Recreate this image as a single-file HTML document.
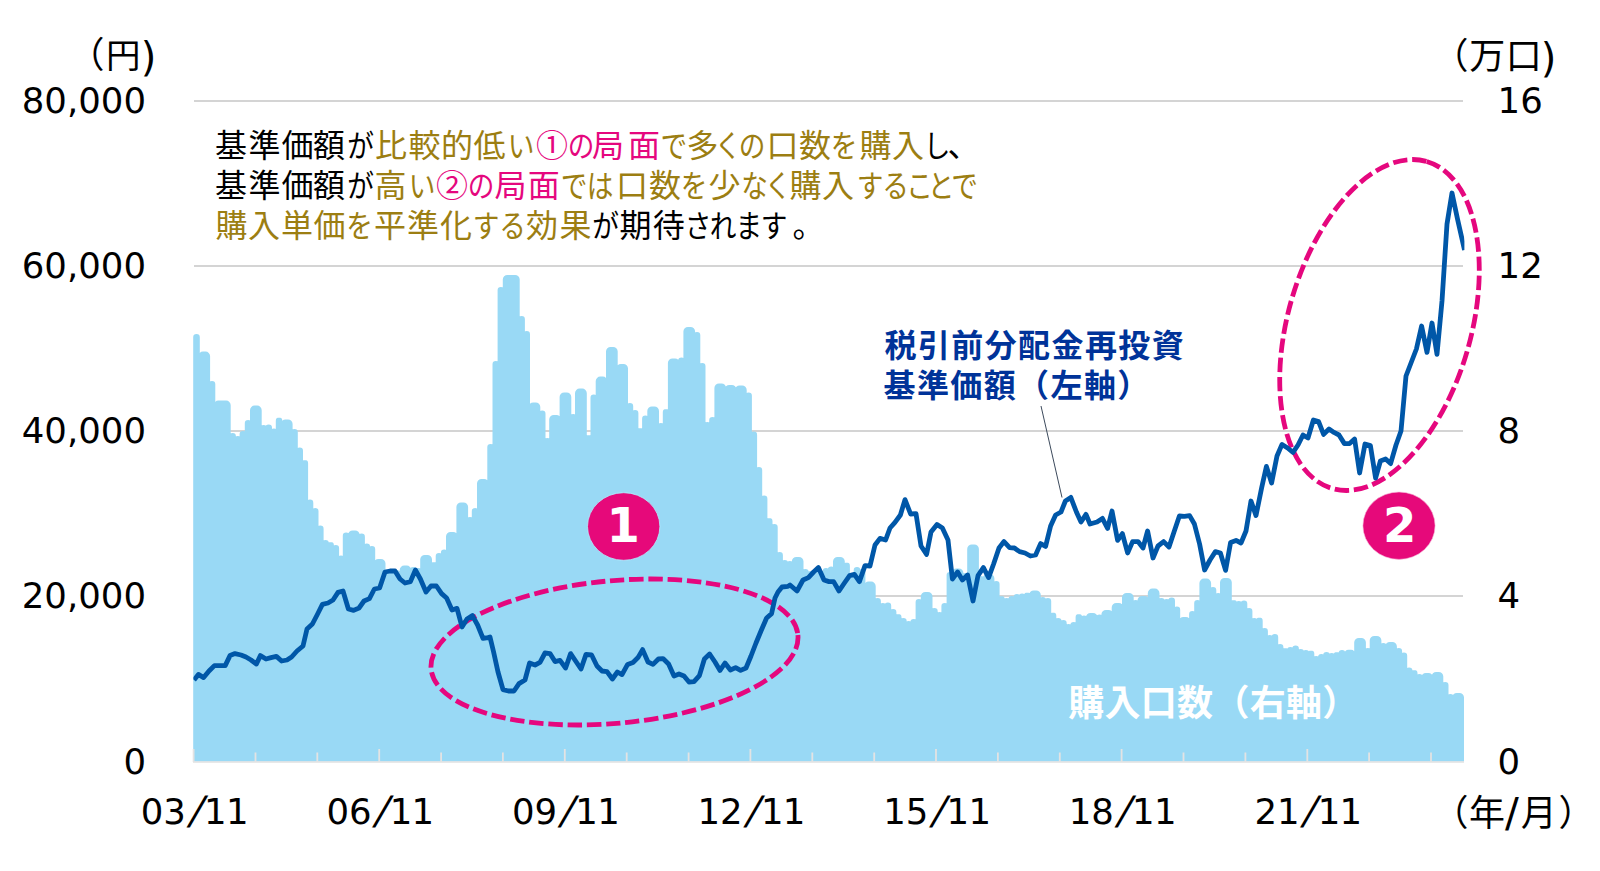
<!DOCTYPE html>
<html lang="ja"><head><meta charset="utf-8"><title>chart</title>
<style>
html,body{margin:0;padding:0;background:#fff;}
body{width:1600px;height:871px;overflow:hidden;position:relative;}
svg{position:absolute;left:0;top:0;}
.num{font-family:"DejaVu Sans","Liberation Sans",sans-serif;font-size:35.5px;fill:#000;}
.jp{font-family:"Liberation Sans","Noto Sans CJK JP",sans-serif;}
.dj{font-family:"DejaVu Sans","Liberation Sans",sans-serif;}
</style></head><body>
<svg width="1600" height="871" viewBox="0 0 1600 871">
<g stroke="#d4d4d4" stroke-width="2">
<line x1="194" x2="1463" y1="101" y2="101"/>
<line x1="194" x2="1463" y1="266" y2="266"/>
<line x1="194" x2="1463" y1="431" y2="431"/>
<line x1="194" x2="1463" y1="596" y2="596"/>
</g>
<path fill="#99d9f5" d="M193.2,761.5V337.3a3.3,3.3 0 0 1 3.3,-3.3H196.5a3.3,3.3 0 0 1 3.3,3.3V761.5ZM198.4,761.5V356.2a4.6,4.6 0 0 1 4.6,-4.6H205.5a4.6,4.6 0 0 1 4.6,4.6V761.5ZM208.7,761.5V384.3a3.3,3.3 0 0 1 3.3,-3.3H212.0a3.3,3.3 0 0 1 3.3,3.3V761.5ZM213.8,761.5V405.2a4.6,4.6 0 0 1 4.6,-4.6H226.1a4.6,4.6 0 0 1 4.6,4.6V761.5ZM229.3,761.5V436.3a3.3,3.3 0 0 1 3.3,-3.3H232.6a3.3,3.3 0 0 1 3.3,3.3V761.5ZM234.5,761.5V439.3a3.3,3.3 0 0 1 3.3,-3.3H237.8a3.3,3.3 0 0 1 3.3,3.3V761.5ZM239.6,761.5V434.3a3.3,3.3 0 0 1 3.3,-3.3H242.9a3.3,3.3 0 0 1 3.3,3.3V761.5ZM244.8,761.5V423.3a3.3,3.3 0 0 1 3.3,-3.3H248.1a3.3,3.3 0 0 1 3.3,3.3V761.5ZM250.0,761.5V410.2a4.6,4.6 0 0 1 4.6,-4.6H257.1a4.6,4.6 0 0 1 4.6,4.6V761.5ZM260.3,761.5V428.3a3.3,3.3 0 0 1 3.3,-3.3H263.6a3.3,3.3 0 0 1 3.3,3.3V761.5ZM265.4,761.5V427.7a3.3,3.3 0 0 1 3.3,-3.3H268.7a3.3,3.3 0 0 1 3.3,3.3V761.5ZM270.6,761.5V431.9a3.3,3.3 0 0 1 3.3,-3.3H273.9a3.3,3.3 0 0 1 3.3,3.3V761.5ZM275.8,761.5V420.9a3.3,3.3 0 0 1 3.3,-3.3H279.0a3.3,3.3 0 0 1 3.3,3.3V761.5ZM280.9,761.5V424.0a4.6,4.6 0 0 1 4.6,-4.6H288.0a4.6,4.6 0 0 1 4.6,4.6V761.5ZM291.2,761.5V432.3a3.3,3.3 0 0 1 3.3,-3.3H294.5a3.3,3.3 0 0 1 3.3,3.3V761.5ZM296.4,761.5V450.7a3.3,3.3 0 0 1 3.3,-3.3H299.7a3.3,3.3 0 0 1 3.3,3.3V761.5ZM301.6,761.5V463.3a3.3,3.3 0 0 1 3.3,-3.3H304.8a3.3,3.3 0 0 1 3.3,3.3V761.5ZM306.7,761.5V502.9a3.3,3.3 0 0 1 3.3,-3.3H310.0a3.3,3.3 0 0 1 3.3,3.3V761.5ZM311.9,761.5V511.3a3.3,3.3 0 0 1 3.3,-3.3H315.2a3.3,3.3 0 0 1 3.3,3.3V761.5ZM317.0,761.5V528.9a3.3,3.3 0 0 1 3.3,-3.3H320.3a3.3,3.3 0 0 1 3.3,3.3V761.5ZM322.2,761.5V543.3a3.3,3.3 0 0 1 3.3,-3.3H325.5a3.3,3.3 0 0 1 3.3,3.3V761.5ZM327.4,761.5V545.3a3.3,3.3 0 0 1 3.3,-3.3H330.6a3.3,3.3 0 0 1 3.3,3.3V761.5ZM332.5,761.5V548.3a3.3,3.3 0 0 1 3.3,-3.3H335.8a3.3,3.3 0 0 1 3.3,3.3V761.5ZM337.7,761.5V558.9a3.3,3.3 0 0 1 3.3,-3.3H341.0a3.3,3.3 0 0 1 3.3,3.3V761.5ZM342.8,761.5V535.7a3.3,3.3 0 0 1 3.3,-3.3H346.1a3.3,3.3 0 0 1 3.3,3.3V761.5ZM348.0,761.5V535.0a4.6,4.6 0 0 1 4.6,-4.6H355.1a4.6,4.6 0 0 1 4.6,4.6V761.5ZM358.3,761.5V536.9a3.3,3.3 0 0 1 3.3,-3.3H361.6a3.3,3.3 0 0 1 3.3,3.3V761.5ZM363.5,761.5V546.9a3.3,3.3 0 0 1 3.3,-3.3H366.8a3.3,3.3 0 0 1 3.3,3.3V761.5ZM368.6,761.5V549.3a3.3,3.3 0 0 1 3.3,-3.3H371.9a3.3,3.3 0 0 1 3.3,3.3V761.5ZM373.8,761.5V563.6a4.6,4.6 0 0 1 4.6,-4.6H380.9a4.6,4.6 0 0 1 4.6,4.6V761.5ZM384.1,761.5V574.6a4.6,4.6 0 0 1 4.6,-4.6H396.4a4.6,4.6 0 0 1 4.6,4.6V761.5ZM399.6,761.5V570.2a4.6,4.6 0 0 1 4.6,-4.6H406.7a4.6,4.6 0 0 1 4.6,4.6V761.5ZM409.9,761.5V570.3a3.3,3.3 0 0 1 3.3,-3.3H413.2a3.3,3.3 0 0 1 3.3,3.3V761.5ZM415.1,761.5V571.3a3.3,3.3 0 0 1 3.3,-3.3H418.4a3.3,3.3 0 0 1 3.3,3.3V761.5ZM420.2,761.5V559.6a4.6,4.6 0 0 1 4.6,-4.6H427.4a4.6,4.6 0 0 1 4.6,4.6V761.5ZM430.6,761.5V565.3a3.3,3.3 0 0 1 3.3,-3.3H433.8a3.3,3.3 0 0 1 3.3,3.3V761.5ZM435.7,761.5V556.3a3.3,3.3 0 0 1 3.3,-3.3H439.0a3.3,3.3 0 0 1 3.3,3.3V761.5ZM440.9,761.5V552.9a3.3,3.3 0 0 1 3.3,-3.3H444.2a3.3,3.3 0 0 1 3.3,3.3V761.5ZM446.0,761.5V536.6a4.6,4.6 0 0 1 4.6,-4.6H453.2a4.6,4.6 0 0 1 4.6,4.6V761.5ZM456.4,761.5V507.0a4.6,4.6 0 0 1 4.6,-4.6H463.5a4.6,4.6 0 0 1 4.6,4.6V761.5ZM466.7,761.5V520.3a3.3,3.3 0 0 1 3.3,-3.3H470.0a3.3,3.3 0 0 1 3.3,3.3V761.5ZM471.8,761.5V511.3a3.3,3.3 0 0 1 3.3,-3.3H475.1a3.3,3.3 0 0 1 3.3,3.3V761.5ZM477.0,761.5V483.6a4.6,4.6 0 0 1 4.6,-4.6H484.1a4.6,4.6 0 0 1 4.6,4.6V761.5ZM487.3,761.5V447.3a3.3,3.3 0 0 1 3.3,-3.3H490.6a3.3,3.3 0 0 1 3.3,3.3V761.5ZM492.5,761.5V364.3a3.3,3.3 0 0 1 3.3,-3.3H495.8a3.3,3.3 0 0 1 3.3,3.3V761.5ZM497.6,761.5V290.3a3.3,3.3 0 0 1 3.3,-3.3H500.9a3.3,3.3 0 0 1 3.3,3.3V761.5ZM502.8,761.5V279.6a4.6,4.6 0 0 1 4.6,-4.6H515.1a4.6,4.6 0 0 1 4.6,4.6V761.5ZM518.3,761.5V319.3a3.3,3.3 0 0 1 3.3,-3.3H521.6a3.3,3.3 0 0 1 3.3,3.3V761.5ZM523.4,761.5V334.3a3.3,3.3 0 0 1 3.3,-3.3H526.7a3.3,3.3 0 0 1 3.3,3.3V761.5ZM528.6,761.5V407.0a4.6,4.6 0 0 1 4.6,-4.6H535.7a4.6,4.6 0 0 1 4.6,4.6V761.5ZM538.9,761.5V413.7a3.3,3.3 0 0 1 3.3,-3.3H542.2a3.3,3.3 0 0 1 3.3,3.3V761.5ZM544.1,761.5V441.3a3.3,3.3 0 0 1 3.3,-3.3H547.4a3.3,3.3 0 0 1 3.3,3.3V761.5ZM549.2,761.5V419.6a4.6,4.6 0 0 1 4.6,-4.6H556.4a4.6,4.6 0 0 1 4.6,4.6V761.5ZM559.6,761.5V397.0a4.6,4.6 0 0 1 4.6,-4.6H566.7a4.6,4.6 0 0 1 4.6,4.6V761.5ZM569.9,761.5V417.3a3.3,3.3 0 0 1 3.3,-3.3H573.2a3.3,3.3 0 0 1 3.3,3.3V761.5ZM575.0,761.5V393.2a4.6,4.6 0 0 1 4.6,-4.6H582.2a4.6,4.6 0 0 1 4.6,4.6V761.5ZM585.4,761.5V438.3a3.3,3.3 0 0 1 3.3,-3.3H588.6a3.3,3.3 0 0 1 3.3,3.3V761.5ZM590.5,761.5V397.7a3.3,3.3 0 0 1 3.3,-3.3H593.8a3.3,3.3 0 0 1 3.3,3.3V761.5ZM595.7,761.5V381.2a4.6,4.6 0 0 1 4.6,-4.6H602.8a4.6,4.6 0 0 1 4.6,4.6V761.5ZM606.0,761.5V351.6a4.6,4.6 0 0 1 4.6,-4.6H613.1a4.6,4.6 0 0 1 4.6,4.6V761.5ZM616.3,761.5V368.6a4.6,4.6 0 0 1 4.6,-4.6H623.4a4.6,4.6 0 0 1 4.6,4.6V761.5ZM626.6,761.5V406.3a3.3,3.3 0 0 1 3.3,-3.3H629.9a3.3,3.3 0 0 1 3.3,3.3V761.5ZM631.8,761.5V413.3a3.3,3.3 0 0 1 3.3,-3.3H635.1a3.3,3.3 0 0 1 3.3,3.3V761.5ZM637.0,761.5V431.3a3.3,3.3 0 0 1 3.3,-3.3H640.2a3.3,3.3 0 0 1 3.3,3.3V761.5ZM642.1,761.5V418.9a3.3,3.3 0 0 1 3.3,-3.3H645.4a3.3,3.3 0 0 1 3.3,3.3V761.5ZM647.3,761.5V411.0a4.6,4.6 0 0 1 4.6,-4.6H654.4a4.6,4.6 0 0 1 4.6,4.6V761.5ZM657.6,761.5V426.3a3.3,3.3 0 0 1 3.3,-3.3H660.9a3.3,3.3 0 0 1 3.3,3.3V761.5ZM662.8,761.5V412.3a3.3,3.3 0 0 1 3.3,-3.3H666.0a3.3,3.3 0 0 1 3.3,3.3V761.5ZM667.9,761.5V363.0a4.6,4.6 0 0 1 4.6,-4.6H675.0a4.6,4.6 0 0 1 4.6,4.6V761.5ZM678.2,761.5V360.7a3.3,3.3 0 0 1 3.3,-3.3H681.5a3.3,3.3 0 0 1 3.3,3.3V761.5ZM683.4,761.5V331.6a4.6,4.6 0 0 1 4.6,-4.6H690.5a4.6,4.6 0 0 1 4.6,4.6V761.5ZM693.7,761.5V335.3a3.3,3.3 0 0 1 3.3,-3.3H697.0a3.3,3.3 0 0 1 3.3,3.3V761.5ZM698.9,761.5V366.3a3.3,3.3 0 0 1 3.3,-3.3H702.2a3.3,3.3 0 0 1 3.3,3.3V761.5ZM704.0,761.5V425.3a3.3,3.3 0 0 1 3.3,-3.3H707.3a3.3,3.3 0 0 1 3.3,3.3V761.5ZM709.2,761.5V420.3a3.3,3.3 0 0 1 3.3,-3.3H712.5a3.3,3.3 0 0 1 3.3,3.3V761.5ZM714.4,761.5V388.0a4.6,4.6 0 0 1 4.6,-4.6H721.5a4.6,4.6 0 0 1 4.6,4.6V761.5ZM724.7,761.5V389.6a4.6,4.6 0 0 1 4.6,-4.6H731.8a4.6,4.6 0 0 1 4.6,4.6V761.5ZM735.0,761.5V390.0a4.6,4.6 0 0 1 4.6,-4.6H742.1a4.6,4.6 0 0 1 4.6,4.6V761.5ZM745.3,761.5V395.7a3.3,3.3 0 0 1 3.3,-3.3H748.6a3.3,3.3 0 0 1 3.3,3.3V761.5ZM750.5,761.5V434.9a3.3,3.3 0 0 1 3.3,-3.3H753.8a3.3,3.3 0 0 1 3.3,3.3V761.5ZM755.6,761.5V470.3a3.3,3.3 0 0 1 3.3,-3.3H758.9a3.3,3.3 0 0 1 3.3,3.3V761.5ZM760.8,761.5V498.9a3.3,3.3 0 0 1 3.3,-3.3H764.1a3.3,3.3 0 0 1 3.3,3.3V761.5ZM766.0,761.5V521.3a3.3,3.3 0 0 1 3.3,-3.3H769.2a3.3,3.3 0 0 1 3.3,3.3V761.5ZM771.1,761.5V527.3a3.3,3.3 0 0 1 3.3,-3.3H774.4a3.3,3.3 0 0 1 3.3,3.3V761.5ZM776.3,761.5V555.3a3.3,3.3 0 0 1 3.3,-3.3H779.6a3.3,3.3 0 0 1 3.3,3.3V761.5ZM781.4,761.5V563.3a3.3,3.3 0 0 1 3.3,-3.3H784.7a3.3,3.3 0 0 1 3.3,3.3V761.5ZM786.6,761.5V564.3a3.3,3.3 0 0 1 3.3,-3.3H789.9a3.3,3.3 0 0 1 3.3,3.3V761.5ZM791.8,761.5V561.6a4.6,4.6 0 0 1 4.6,-4.6H798.9a4.6,4.6 0 0 1 4.6,4.6V761.5ZM802.1,761.5V572.3a3.3,3.3 0 0 1 3.3,-3.3H805.4a3.3,3.3 0 0 1 3.3,3.3V761.5ZM807.2,761.5V574.3a3.3,3.3 0 0 1 3.3,-3.3H810.5a3.3,3.3 0 0 1 3.3,3.3V761.5ZM812.4,761.5V573.3a3.3,3.3 0 0 1 3.3,-3.3H815.7a3.3,3.3 0 0 1 3.3,3.3V761.5ZM817.6,761.5V574.3a3.3,3.3 0 0 1 3.3,-3.3H820.8a3.3,3.3 0 0 1 3.3,3.3V761.5ZM822.7,761.5V571.3a3.3,3.3 0 0 1 3.3,-3.3H826.0a3.3,3.3 0 0 1 3.3,3.3V761.5ZM827.9,761.5V569.9a3.3,3.3 0 0 1 3.3,-3.3H831.2a3.3,3.3 0 0 1 3.3,3.3V761.5ZM833.0,761.5V561.6a4.6,4.6 0 0 1 4.6,-4.6H840.2a4.6,4.6 0 0 1 4.6,4.6V761.5ZM843.4,761.5V565.7a3.3,3.3 0 0 1 3.3,-3.3H846.6a3.3,3.3 0 0 1 3.3,3.3V761.5ZM848.5,761.5V577.3a3.3,3.3 0 0 1 3.3,-3.3H851.8a3.3,3.3 0 0 1 3.3,3.3V761.5ZM853.7,761.5V570.3a3.3,3.3 0 0 1 3.3,-3.3H857.0a3.3,3.3 0 0 1 3.3,3.3V761.5ZM858.8,761.5V572.3a3.3,3.3 0 0 1 3.3,-3.3H862.1a3.3,3.3 0 0 1 3.3,3.3V761.5ZM864.0,761.5V586.2a4.6,4.6 0 0 1 4.6,-4.6H871.1a4.6,4.6 0 0 1 4.6,4.6V761.5ZM874.3,761.5V601.3a3.3,3.3 0 0 1 3.3,-3.3H877.6a3.3,3.3 0 0 1 3.3,3.3V761.5ZM879.5,761.5V606.3a3.3,3.3 0 0 1 3.3,-3.3H882.8a3.3,3.3 0 0 1 3.3,3.3V761.5ZM884.6,761.5V605.7a3.3,3.3 0 0 1 3.3,-3.3H887.9a3.3,3.3 0 0 1 3.3,3.3V761.5ZM889.8,761.5V612.3a3.3,3.3 0 0 1 3.3,-3.3H893.1a3.3,3.3 0 0 1 3.3,3.3V761.5ZM895.0,761.5V617.3a3.3,3.3 0 0 1 3.3,-3.3H898.2a3.3,3.3 0 0 1 3.3,3.3V761.5ZM900.1,761.5V621.3a3.3,3.3 0 0 1 3.3,-3.3H903.4a3.3,3.3 0 0 1 3.3,3.3V761.5ZM905.3,761.5V624.3a3.3,3.3 0 0 1 3.3,-3.3H908.6a3.3,3.3 0 0 1 3.3,3.3V761.5ZM910.4,761.5V622.3a3.3,3.3 0 0 1 3.3,-3.3H913.7a3.3,3.3 0 0 1 3.3,3.3V761.5ZM915.6,761.5V602.3a3.3,3.3 0 0 1 3.3,-3.3H918.9a3.3,3.3 0 0 1 3.3,3.3V761.5ZM920.8,761.5V596.6a4.6,4.6 0 0 1 4.6,-4.6H927.9a4.6,4.6 0 0 1 4.6,4.6V761.5ZM931.1,761.5V611.3a3.3,3.3 0 0 1 3.3,-3.3H934.4a3.3,3.3 0 0 1 3.3,3.3V761.5ZM936.2,761.5V615.3a3.3,3.3 0 0 1 3.3,-3.3H939.5a3.3,3.3 0 0 1 3.3,3.3V761.5ZM941.4,761.5V606.3a3.3,3.3 0 0 1 3.3,-3.3H944.7a3.3,3.3 0 0 1 3.3,3.3V761.5ZM946.6,761.5V575.3a3.3,3.3 0 0 1 3.3,-3.3H949.8a3.3,3.3 0 0 1 3.3,3.3V761.5ZM951.7,761.5V573.0a4.6,4.6 0 0 1 4.6,-4.6H958.8a4.6,4.6 0 0 1 4.6,4.6V761.5ZM962.0,761.5V576.3a3.3,3.3 0 0 1 3.3,-3.3H965.3a3.3,3.3 0 0 1 3.3,3.3V761.5ZM967.2,761.5V549.0a4.6,4.6 0 0 1 4.6,-4.6H974.3a4.6,4.6 0 0 1 4.6,4.6V761.5ZM977.5,761.5V579.3a3.3,3.3 0 0 1 3.3,-3.3H980.8a3.3,3.3 0 0 1 3.3,3.3V761.5ZM982.7,761.5V578.6a4.6,4.6 0 0 1 4.6,-4.6H989.8a4.6,4.6 0 0 1 4.6,4.6V761.5ZM993.0,761.5V584.3a3.3,3.3 0 0 1 3.3,-3.3H996.3a3.3,3.3 0 0 1 3.3,3.3V761.5ZM998.2,761.5V599.3a3.3,3.3 0 0 1 3.3,-3.3H1001.4a3.3,3.3 0 0 1 3.3,3.3V761.5ZM1003.3,761.5V601.3a3.3,3.3 0 0 1 3.3,-3.3H1006.6a3.3,3.3 0 0 1 3.3,3.3V761.5ZM1008.5,761.5V599.3a3.3,3.3 0 0 1 3.3,-3.3H1011.8a3.3,3.3 0 0 1 3.3,3.3V761.5ZM1013.6,761.5V597.3a3.3,3.3 0 0 1 3.3,-3.3H1016.9a3.3,3.3 0 0 1 3.3,3.3V761.5ZM1018.8,761.5V596.9a3.3,3.3 0 0 1 3.3,-3.3H1022.1a3.3,3.3 0 0 1 3.3,3.3V761.5ZM1024.0,761.5V595.7a3.3,3.3 0 0 1 3.3,-3.3H1027.2a3.3,3.3 0 0 1 3.3,3.3V761.5ZM1029.1,761.5V595.0a4.6,4.6 0 0 1 4.6,-4.6H1036.2a4.6,4.6 0 0 1 4.6,4.6V761.5ZM1039.4,761.5V600.3a3.3,3.3 0 0 1 3.3,-3.3H1042.7a3.3,3.3 0 0 1 3.3,3.3V761.5ZM1044.6,761.5V601.3a3.3,3.3 0 0 1 3.3,-3.3H1047.9a3.3,3.3 0 0 1 3.3,3.3V761.5ZM1049.8,761.5V615.7a3.3,3.3 0 0 1 3.3,-3.3H1053.0a3.3,3.3 0 0 1 3.3,3.3V761.5ZM1054.9,761.5V621.3a3.3,3.3 0 0 1 3.3,-3.3H1058.2a3.3,3.3 0 0 1 3.3,3.3V761.5ZM1060.1,761.5V623.3a3.3,3.3 0 0 1 3.3,-3.3H1063.4a3.3,3.3 0 0 1 3.3,3.3V761.5ZM1065.2,761.5V627.3a3.3,3.3 0 0 1 3.3,-3.3H1068.5a3.3,3.3 0 0 1 3.3,3.3V761.5ZM1070.4,761.5V625.3a3.3,3.3 0 0 1 3.3,-3.3H1073.7a3.3,3.3 0 0 1 3.3,3.3V761.5ZM1075.6,761.5V617.3a3.3,3.3 0 0 1 3.3,-3.3H1078.8a3.3,3.3 0 0 1 3.3,3.3V761.5ZM1080.7,761.5V618.9a3.3,3.3 0 0 1 3.3,-3.3H1084.0a3.3,3.3 0 0 1 3.3,3.3V761.5ZM1085.9,761.5V617.6a4.6,4.6 0 0 1 4.6,-4.6H1093.0a4.6,4.6 0 0 1 4.6,4.6V761.5ZM1096.2,761.5V617.7a3.3,3.3 0 0 1 3.3,-3.3H1099.5a3.3,3.3 0 0 1 3.3,3.3V761.5ZM1101.4,761.5V614.6a4.6,4.6 0 0 1 4.6,-4.6H1108.5a4.6,4.6 0 0 1 4.6,4.6V761.5ZM1111.7,761.5V607.6a4.6,4.6 0 0 1 4.6,-4.6H1118.8a4.6,4.6 0 0 1 4.6,4.6V761.5ZM1122.0,761.5V597.6a4.6,4.6 0 0 1 4.6,-4.6H1129.1a4.6,4.6 0 0 1 4.6,4.6V761.5ZM1132.3,761.5V603.3a3.3,3.3 0 0 1 3.3,-3.3H1135.6a3.3,3.3 0 0 1 3.3,3.3V761.5ZM1137.5,761.5V600.6a4.6,4.6 0 0 1 4.6,-4.6H1144.6a4.6,4.6 0 0 1 4.6,4.6V761.5ZM1147.8,761.5V593.2a4.6,4.6 0 0 1 4.6,-4.6H1154.9a4.6,4.6 0 0 1 4.6,4.6V761.5ZM1158.1,761.5V601.3a3.3,3.3 0 0 1 3.3,-3.3H1161.4a3.3,3.3 0 0 1 3.3,3.3V761.5ZM1163.3,761.5V602.3a3.3,3.3 0 0 1 3.3,-3.3H1166.6a3.3,3.3 0 0 1 3.3,3.3V761.5ZM1168.4,761.5V600.9a3.3,3.3 0 0 1 3.3,-3.3H1171.7a3.3,3.3 0 0 1 3.3,3.3V761.5ZM1173.6,761.5V609.9a3.3,3.3 0 0 1 3.3,-3.3H1176.9a3.3,3.3 0 0 1 3.3,3.3V761.5ZM1178.8,761.5V621.6a4.6,4.6 0 0 1 4.6,-4.6H1185.9a4.6,4.6 0 0 1 4.6,4.6V761.5ZM1189.1,761.5V614.3a3.3,3.3 0 0 1 3.3,-3.3H1192.4a3.3,3.3 0 0 1 3.3,3.3V761.5ZM1194.2,761.5V603.3a3.3,3.3 0 0 1 3.3,-3.3H1197.5a3.3,3.3 0 0 1 3.3,3.3V761.5ZM1199.4,761.5V583.2a4.6,4.6 0 0 1 4.6,-4.6H1206.5a4.6,4.6 0 0 1 4.6,4.6V761.5ZM1209.7,761.5V590.3a3.3,3.3 0 0 1 3.3,-3.3H1213.0a3.3,3.3 0 0 1 3.3,3.3V761.5ZM1214.9,761.5V596.3a3.3,3.3 0 0 1 3.3,-3.3H1218.2a3.3,3.3 0 0 1 3.3,3.3V761.5ZM1220.0,761.5V582.6a4.6,4.6 0 0 1 4.6,-4.6H1227.2a4.6,4.6 0 0 1 4.6,4.6V761.5ZM1230.4,761.5V603.3a3.3,3.3 0 0 1 3.3,-3.3H1233.6a3.3,3.3 0 0 1 3.3,3.3V761.5ZM1235.5,761.5V604.3a3.3,3.3 0 0 1 3.3,-3.3H1238.8a3.3,3.3 0 0 1 3.3,3.3V761.5ZM1240.7,761.5V603.7a3.3,3.3 0 0 1 3.3,-3.3H1244.0a3.3,3.3 0 0 1 3.3,3.3V761.5ZM1245.8,761.5V611.3a3.3,3.3 0 0 1 3.3,-3.3H1249.1a3.3,3.3 0 0 1 3.3,3.3V761.5ZM1251.0,761.5V621.3a3.3,3.3 0 0 1 3.3,-3.3H1254.3a3.3,3.3 0 0 1 3.3,3.3V761.5ZM1256.2,761.5V620.9a3.3,3.3 0 0 1 3.3,-3.3H1259.4a3.3,3.3 0 0 1 3.3,3.3V761.5ZM1261.3,761.5V631.3a3.3,3.3 0 0 1 3.3,-3.3H1264.6a3.3,3.3 0 0 1 3.3,3.3V761.5ZM1266.5,761.5V638.3a3.3,3.3 0 0 1 3.3,-3.3H1269.8a3.3,3.3 0 0 1 3.3,3.3V761.5ZM1271.6,761.5V637.3a3.3,3.3 0 0 1 3.3,-3.3H1274.9a3.3,3.3 0 0 1 3.3,3.3V761.5ZM1276.8,761.5V647.3a3.3,3.3 0 0 1 3.3,-3.3H1280.1a3.3,3.3 0 0 1 3.3,3.3V761.5ZM1282.0,761.5V651.3a3.3,3.3 0 0 1 3.3,-3.3H1285.2a3.3,3.3 0 0 1 3.3,3.3V761.5ZM1287.1,761.5V650.3a3.3,3.3 0 0 1 3.3,-3.3H1290.4a3.3,3.3 0 0 1 3.3,3.3V761.5ZM1292.3,761.5V648.9a3.3,3.3 0 0 1 3.3,-3.3H1295.6a3.3,3.3 0 0 1 3.3,3.3V761.5ZM1297.4,761.5V652.3a3.3,3.3 0 0 1 3.3,-3.3H1300.7a3.3,3.3 0 0 1 3.3,3.3V761.5ZM1302.6,761.5V653.3a3.3,3.3 0 0 1 3.3,-3.3H1305.9a3.3,3.3 0 0 1 3.3,3.3V761.5ZM1307.8,761.5V653.7a3.3,3.3 0 0 1 3.3,-3.3H1311.0a3.3,3.3 0 0 1 3.3,3.3V761.5ZM1312.9,761.5V659.3a3.3,3.3 0 0 1 3.3,-3.3H1316.2a3.3,3.3 0 0 1 3.3,3.3V761.5ZM1318.1,761.5V657.3a3.3,3.3 0 0 1 3.3,-3.3H1321.4a3.3,3.3 0 0 1 3.3,3.3V761.5ZM1323.2,761.5V655.3a3.3,3.3 0 0 1 3.3,-3.3H1326.5a3.3,3.3 0 0 1 3.3,3.3V761.5ZM1328.4,761.5V656.3a3.3,3.3 0 0 1 3.3,-3.3H1331.7a3.3,3.3 0 0 1 3.3,3.3V761.5ZM1333.6,761.5V655.3a3.3,3.3 0 0 1 3.3,-3.3H1336.8a3.3,3.3 0 0 1 3.3,3.3V761.5ZM1338.7,761.5V653.3a3.3,3.3 0 0 1 3.3,-3.3H1342.0a3.3,3.3 0 0 1 3.3,3.3V761.5ZM1343.9,761.5V654.4a4.6,4.6 0 0 1 4.6,-4.6H1351.0a4.6,4.6 0 0 1 4.6,4.6V761.5ZM1354.2,761.5V642.6a4.6,4.6 0 0 1 4.6,-4.6H1361.3a4.6,4.6 0 0 1 4.6,4.6V761.5ZM1364.5,761.5V651.3a3.3,3.3 0 0 1 3.3,-3.3H1367.8a3.3,3.3 0 0 1 3.3,3.3V761.5ZM1369.7,761.5V640.6a4.6,4.6 0 0 1 4.6,-4.6H1376.8a4.6,4.6 0 0 1 4.6,4.6V761.5ZM1380.0,761.5V646.3a3.3,3.3 0 0 1 3.3,-3.3H1383.3a3.3,3.3 0 0 1 3.3,3.3V761.5ZM1385.2,761.5V646.6a4.6,4.6 0 0 1 4.6,-4.6H1392.3a4.6,4.6 0 0 1 4.6,4.6V761.5ZM1395.5,761.5V651.3a3.3,3.3 0 0 1 3.3,-3.3H1398.8a3.3,3.3 0 0 1 3.3,3.3V761.5ZM1400.6,761.5V655.8a3.3,3.3 0 0 1 3.3,-3.3H1403.9a3.3,3.3 0 0 1 3.3,3.3V761.5ZM1405.8,761.5V670.8a3.3,3.3 0 0 1 3.3,-3.3H1409.1a3.3,3.3 0 0 1 3.3,3.3V761.5ZM1411.0,761.5V673.3a3.3,3.3 0 0 1 3.3,-3.3H1414.2a3.3,3.3 0 0 1 3.3,3.3V761.5ZM1416.1,761.5V677.3a3.3,3.3 0 0 1 3.3,-3.3H1419.4a3.3,3.3 0 0 1 3.3,3.3V761.5ZM1421.3,761.5V677.6a4.6,4.6 0 0 1 4.6,-4.6H1428.4a4.6,4.6 0 0 1 4.6,4.6V761.5ZM1431.6,761.5V676.6a4.6,4.6 0 0 1 4.6,-4.6H1438.7a4.6,4.6 0 0 1 4.6,4.6V761.5ZM1441.9,761.5V685.3a3.3,3.3 0 0 1 3.3,-3.3H1445.2a3.3,3.3 0 0 1 3.3,3.3V761.5ZM1447.1,761.5V697.3a3.3,3.3 0 0 1 3.3,-3.3H1450.4a3.3,3.3 0 0 1 3.3,3.3V761.5ZM1452.2,761.5V697.6a4.6,4.6 0 0 1 4.6,-4.6H1459.4a4.6,4.6 0 0 1 4.6,4.6V761.5Z"/>
<line x1="193" x2="1464" y1="762" y2="762" stroke="#e0e0e0" stroke-width="1.5"/>
<g stroke="#e3e3e3" stroke-width="1.8"><line x1="193.6" x2="193.6" y1="749" y2="762"/><line x1="255.5" x2="255.5" y1="752.5" y2="762"/><line x1="317.3" x2="317.3" y1="752.5" y2="762"/><line x1="379.2" x2="379.2" y1="749" y2="762"/><line x1="441.1" x2="441.1" y1="752.5" y2="762"/><line x1="502.9" x2="502.9" y1="752.5" y2="762"/><line x1="564.8" x2="564.8" y1="749" y2="762"/><line x1="626.7" x2="626.7" y1="752.5" y2="762"/><line x1="688.6" x2="688.6" y1="752.5" y2="762"/><line x1="750.4" x2="750.4" y1="749" y2="762"/><line x1="812.3" x2="812.3" y1="752.5" y2="762"/><line x1="874.2" x2="874.2" y1="752.5" y2="762"/><line x1="936.0" x2="936.0" y1="749" y2="762"/><line x1="997.9" x2="997.9" y1="752.5" y2="762"/><line x1="1059.8" x2="1059.8" y1="752.5" y2="762"/><line x1="1121.6" x2="1121.6" y1="749" y2="762"/><line x1="1183.5" x2="1183.5" y1="752.5" y2="762"/><line x1="1245.4" x2="1245.4" y1="752.5" y2="762"/><line x1="1307.3" x2="1307.3" y1="749" y2="762"/><line x1="1369.1" x2="1369.1" y1="752.5" y2="762"/><line x1="1431.0" x2="1431.0" y1="752.5" y2="762"/></g>
<g fill="none" stroke="#e5077e" stroke-width="4.8" stroke-dasharray="14.4 4.8">
<ellipse cx="614.5" cy="652" rx="184.2" ry="71.3" transform="rotate(-5.3 614.5 652)"/>
<ellipse cx="1379.5" cy="325" rx="170.2" ry="91.5" transform="rotate(-73.9 1379.5 325)"/>
</g>
<clipPath id="pc"><rect x="193.4" y="90" width="1271" height="672"/></clipPath>
<path clip-path="url(#pc)" fill="none" stroke="#0057a8" stroke-width="4.8" stroke-linejoin="round" stroke-linecap="butt" d="M194.0,680.0 L198.4,674.4 L203.6,677.6 L209.0,671.0 L214.4,665.6 L220.0,665.6 L225.2,665.6 L230.0,655.6 L235.0,653.6 L241.0,655.0 L246.0,657.0 L251.0,660.0 L256.4,664.0 L260.4,655.6 L266.0,659.0 L271.0,657.6 L276.4,656.4 L281.6,661.0 L287.0,660.0 L291.6,657.0 L297.0,651.0 L303.0,646.0 L307.0,629.0 L312.4,624.0 L317.6,614.0 L322.4,604.4 L328.0,603.0 L333.0,600.0 L338.0,592.4 L343.0,591.0 L348.4,609.0 L353.6,610.4 L359.0,608.0 L364.0,601.0 L369.4,598.6 L374.4,589.0 L379.6,588.0 L385.0,572.0 L390.0,571.0 L395.0,571.0 L400.0,579.0 L405.0,583.0 L410.4,581.6 L415.4,570.0 L420.4,579.0 L426.0,592.0 L431.0,586.0 L436.4,586.0 L441.6,593.6 L446.6,598.0 L452.0,610.0 L457.0,608.4 L462.0,627.0 L467.0,619.0 L472.4,615.6 L477.6,625.0 L483.0,638.4 L488.0,637.6 L490.0,637.0 L493.6,652.0 L498.0,672.0 L503.0,689.6 L508.4,691.0 L514.0,691.0 L519.0,683.6 L525.0,680.0 L529.6,663.0 L535.0,665.0 L540.0,662.4 L545.0,653.0 L550.0,653.6 L555.0,661.6 L560.0,660.4 L565.6,668.0 L570.6,653.6 L575.6,661.0 L581.0,669.0 L586.0,654.4 L591.6,655.0 L597.0,666.0 L602.0,671.0 L607.0,671.6 L612.4,679.0 L617.4,672.0 L622.0,674.6 L627.6,664.4 L633.0,662.4 L638.0,657.6 L642.6,649.6 L648.0,662.0 L653.0,664.4 L658.4,659.0 L663.0,658.6 L668.6,664.0 L674.0,676.0 L679.0,674.0 L684.0,676.0 L689.0,682.0 L694.0,681.6 L699.4,675.6 L704.4,659.0 L709.6,654.0 L715.0,662.0 L720.0,670.4 L725.0,663.0 L730.4,670.0 L735.6,667.6 L740.6,670.4 L746.0,668.0 L751.0,656.0 L756.0,643.0 L761.4,630.0 L766.6,618.0 L771.6,613.6 L775.0,598.0 L778.0,592.0 L782.0,587.0 L788.0,586.4 L790.0,585.0 L797.0,591.0 L803.0,580.0 L808.4,577.6 L813.6,572.0 L818.4,567.6 L824.0,580.0 L829.0,581.6 L833.6,581.6 L839.0,591.0 L844.4,583.0 L849.6,575.6 L854.4,574.4 L859.4,581.6 L865.0,565.6 L870.0,566.0 L875.0,545.0 L880.0,538.4 L885.6,540.0 L890.0,528.0 L895.0,522.4 L900.4,515.0 L905.0,499.6 L910.6,514.0 L916.0,513.6 L921.0,546.0 L926.6,554.4 L931.0,532.0 L937.0,524.4 L942.4,528.0 L948.0,540.0 L952.4,579.0 L957.6,572.0 L962.4,580.0 L967.6,575.0 L973.0,601.0 L978.0,575.6 L983.4,567.6 L988.6,577.6 L993.6,564.0 L999.0,548.0 L1004.0,541.6 L1009.6,547.6 L1014.4,548.0 L1019.6,551.6 L1025.0,553.0 L1030.4,556.0 L1035.6,555.0 L1040.6,543.6 L1045.6,546.4 L1050.6,526.0 L1055.6,515.0 L1061.0,512.0 L1065.4,501.0 L1070.8,497.4 L1076.4,512.0 L1081.0,522.0 L1086.0,514.4 L1090.0,524.0 L1097.0,522.0 L1102.4,518.4 L1107.6,528.4 L1112.0,511.0 L1117.6,540.4 L1122.4,533.6 L1127.6,553.0 L1132.6,541.6 L1138.0,541.6 L1143.0,548.0 L1147.6,531.0 L1153.0,558.0 L1158.0,546.0 L1163.6,541.6 L1169.0,547.0 L1174.0,532.0 L1179.4,516.0 L1184.4,516.4 L1189.6,515.6 L1194.4,524.0 L1199.6,544.0 L1204.6,570.0 L1210.0,560.0 L1215.4,551.6 L1220.4,553.0 L1225.6,570.4 L1230.6,542.4 L1236.0,540.4 L1241.0,543.0 L1246.0,531.0 L1251.0,501.0 L1256.0,515.6 L1261.6,488.0 L1266.4,466.4 L1271.6,483.0 L1277.0,456.0 L1277.0,456.0 L1282.0,444.4 L1287.6,448.0 L1293.0,452.4 L1298.0,445.0 L1303.0,435.0 L1308.0,438.0 L1313.4,420.0 L1318.6,421.6 L1323.6,434.4 L1329.0,429.0 L1334.0,432.4 L1339.0,435.0 L1344.4,443.6 L1349.6,443.6 L1354.6,439.0 L1359.6,473.0 L1365.0,444.0 L1370.4,445.6 L1375.6,478.0 L1380.4,461.0 L1385.6,459.0 L1390.6,463.6 L1396.0,445.0 L1401.0,431.0 L1406.0,376.0 L1411.0,363.0 L1416.4,349.0 L1421.6,326.0 L1427.0,352.4 L1432.0,323.0 L1437.0,354.4 L1442.0,301.0 L1447.0,224.0 L1452.0,193.0 L1457.5,219.0 L1464.5,250.0"/>
<line x1="1041" y1="406" x2="1062" y2="497.5" stroke="#3c4a5c" stroke-width="1"/>
<g>
<ellipse cx="623.7" cy="526.5" rx="36.2" ry="33.8" fill="#e6097a" stroke="#b4efff" stroke-width="0.8"/>
<ellipse cx="1399" cy="525.7" rx="36.1" ry="33.7" fill="#e6097a" stroke="#f6b8d8" stroke-width="0.6"/>
<g font-family="'DejaVu Sans','Liberation Sans',sans-serif" font-weight="bold" font-size="48" fill="#fff">
<text x="606.6" y="542.4">1</text>
<text x="1383" y="541.5">2</text>
</g>
</g>
<g class="num" text-anchor="end">
<text x="146" y="113">80,000</text>
<text x="146" y="278">60,000</text>
<text x="146" y="443">40,000</text>
<text x="146" y="608">20,000</text>
<text x="146" y="773.5">0</text>
</g>
<g class="num">
<text x="1497.6" y="113">16</text>
<text x="1497.6" y="278">12</text>
<text x="1497.6" y="443">8</text>
<text x="1497.6" y="608">4</text>
<text x="1497.6" y="773.5">0</text>
</g>
<g class="num">
<text y="824" x="140.8 163.3">03</text><text font-size="39" transform="translate(197.0,824.4) skewX(-15)" x="-9.6" y="0">/</text><text x="204.1 226.0" y="824">11</text>
<text y="824" x="326.4 348.9">06</text><text font-size="39" transform="translate(382.6,824.4) skewX(-15)" x="-9.6" y="0">/</text><text x="389.7 411.6" y="824">11</text>
<text y="824" x="512.0 534.5">09</text><text font-size="39" transform="translate(568.2,824.4) skewX(-15)" x="-9.6" y="0">/</text><text x="575.3 597.2" y="824">11</text>
<text y="824" x="697.6 720.1">12</text><text font-size="39" transform="translate(753.9,824.4) skewX(-15)" x="-9.6" y="0">/</text><text x="760.9 782.8" y="824">11</text>
<text y="824" x="883.2 905.7">15</text><text font-size="39" transform="translate(939.5,824.4) skewX(-15)" x="-9.6" y="0">/</text><text x="946.5 968.4" y="824">11</text>
<text y="824" x="1068.8 1091.3">18</text><text font-size="39" transform="translate(1125.0,824.4) skewX(-15)" x="-9.6" y="0">/</text><text x="1132.1 1154.0" y="824">11</text>
<text y="824" x="1254.4 1276.9">21</text><text font-size="39" transform="translate(1310.6,824.4) skewX(-15)" x="-9.6" y="0">/</text><text x="1317.7 1339.6" y="824">11</text>
</g>
<g class="jp" font-size="36" fill="#000"><text x="68.5" y="68">（<tspan font-size="34.5" x="106" y="68.2">円</tspan></text><text class="dj" font-size="40" x="140.7" y="71">)</text></g>
<g class="jp" font-size="36" fill="#000"><text x="1432.6 1469.3 1505.8" y="68.5">（万口</text><text class="dj" font-size="40" x="1540.7" y="72">)</text></g>
<g class="jp" font-size="36" fill="#000"><text x="1432.6 1469" y="825.5">（年</text><text class="dj" font-size="41" x="1505" y="826.5">/</text><text x="1520.8 1558.5" y="825.5">月）</text></g>
<g class="jp" font-size="32">
<g><text fill="#000" x="215.0 248.5 281.5 313.0" y="157.3">基準価額</text><text fill="#000" font-size="31" transform="translate(360.5,157.3) scale(0.86,1)" x="-15.5" y="0">が</text><text fill="#9c7e12" x="375.0 408.5 441.0 473.5" y="157.3">比較的低</text><text fill="#9c7e12" font-size="31" transform="translate(521.0,157.3) scale(0.86,1)" x="-15.5" y="0">い</text><text fill="#e5077e" x="536.0" y="157.3">①</text><text fill="#e5077e" font-size="31" transform="translate(581.0,157.3) scale(0.86,1)" x="-15.5" y="0">の</text><text fill="#e5077e" x="592.0 628.0" y="157.3">局面</text><text fill="#9c7e12" font-size="31" transform="translate(673.8,157.3) scale(0.86,1)" x="-15.5" y="0">で</text><text fill="#9c7e12" x="686.5" y="157.3">多</text><text fill="#9c7e12" font-size="31" transform="translate(728.0,157.3) scale(0.86,1)" x="-15.5 12.4" y="0">くの</text><text fill="#9c7e12" x="766.5 799.0" y="157.3">口数</text><text fill="#9c7e12" font-size="31" transform="translate(844.0,157.3) scale(0.86,1)" x="-15.5" y="0">を</text><text fill="#9c7e12" x="859.5 892.0" y="157.3">購入</text><text fill="#000" font-size="31" transform="translate(937.0,157.3) scale(0.86,1)" x="-15.5" y="0">し</text><text fill="#000" x="947.6" y="157.3">、</text></g>
<g><text fill="#000" x="215.0 248.5 281.5 313.0" y="197.3">基準価額</text><text fill="#000" font-size="31" transform="translate(360.5,197.3) scale(0.86,1)" x="-15.5" y="0">が</text><text fill="#9c7e12" x="374.5" y="197.3">高</text><text fill="#9c7e12" font-size="31" transform="translate(422.0,197.3) scale(0.86,1)" x="-15.5" y="0">い</text><text fill="#e5077e" x="436.0" y="197.3">②</text><text fill="#e5077e" font-size="31" transform="translate(481.0,197.3) scale(0.86,1)" x="-15.5" y="0">の</text><text fill="#e5077e" x="494.5 527.8" y="197.3">局面</text><text fill="#9c7e12" font-size="31" transform="translate(574.0,197.3) scale(0.86,1)" x="-15.5 14.7" y="0">では</text><text fill="#9c7e12" x="616.0 649.0" y="197.3">口数</text><text fill="#9c7e12" font-size="31" transform="translate(694.0,197.3) scale(0.86,1)" x="-15.5" y="0">を</text><text fill="#9c7e12" x="708.5" y="197.3">少</text><text fill="#9c7e12" font-size="31" transform="translate(754.5,197.3) scale(0.86,1)" x="-15.5 11.8" y="0">なく</text><text fill="#9c7e12" x="789.5 822.0" y="197.3">購入</text><text fill="#9c7e12" font-size="31" transform="translate(870.0,197.3) scale(0.86,1)" x="-15.5 14.2 42.1 67.1 94.4" y="0">することで</text></g>
<g><text fill="#9c7e12" x="215.5 248.0 281.0 313.5" y="237.3">購入単価</text><text fill="#9c7e12" font-size="31" transform="translate(359.5,237.3) scale(0.86,1)" x="-15.5" y="0">を</text><text fill="#9c7e12" x="374.0 407.0 440.0" y="237.3">平準化</text><text fill="#9c7e12" font-size="31" transform="translate(486.0,237.3) scale(0.86,1)" x="-15.5 15.3" y="0">する</text><text fill="#9c7e12" x="526.0 559.5" y="237.3">効果</text><text fill="#000" font-size="31" transform="translate(605.5,237.3) scale(0.86,1)" x="-15.5" y="0">が</text><text fill="#000" x="619.5 652.8" y="237.3">期待</text><text fill="#000" font-size="31" transform="translate(698.0,237.3) scale(0.86,1)" x="-15.5 13.6 43.5 72.9" y="0">されます</text><text fill="#000" x="792.4" y="237.3">。</text></g>
</g>
<g class="jp" font-weight="bold" font-size="32" letter-spacing="1.4" fill="#003399">
<text x="884.5" y="357.3">税引前分配金再投資</text>
<text x="883.5" y="397.3">基準価額（左軸）</text>
</g>
<text class="jp" font-weight="bold" font-size="36" letter-spacing="0.3" fill="#fff" x="1068.2" y="716.2">購入口数（右軸）</text>
</svg>
</body></html>
